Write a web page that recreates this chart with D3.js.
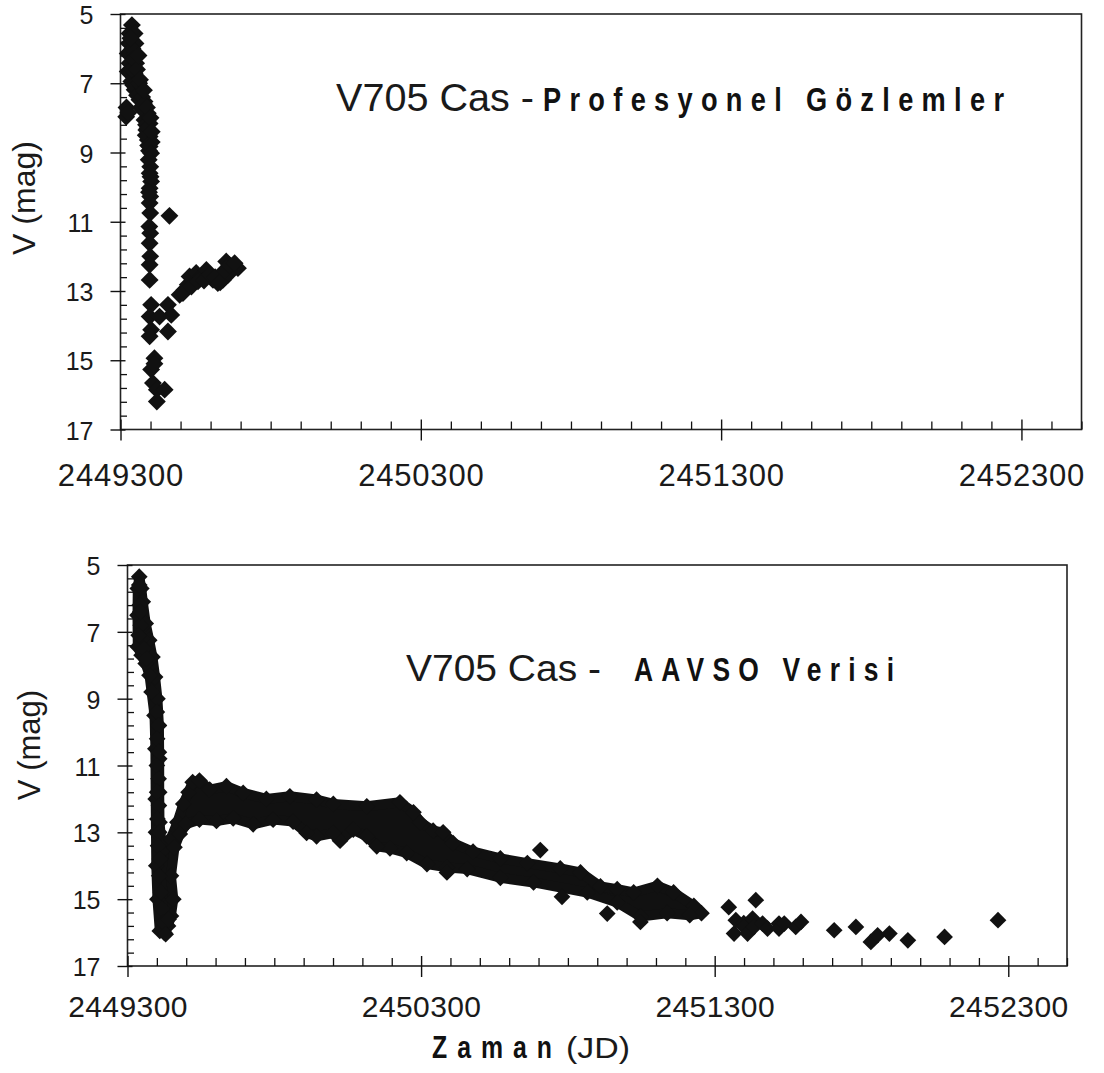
<!DOCTYPE html>
<html><head><meta charset="utf-8">
<script src="https://cdn.jsdelivr.net/npm/d3@7"></script>
<style>
html,body{margin:0;padding:0;background:#fff;}
svg{display:block;}
</style></head><body>
<svg id="chart" width="1104" height="1073"></svg>
<script>
// ---------- data ----------
const xDomain = [2449300, 2452500];
const yDomain = [5, 17];
const xMajorTicks = [2449300, 2450300, 2451300, 2452300];
const yMajorTicks = [5, 7, 9, 11, 13, 15, 17];
const xMinorStep = 100;
const yMinorStep = 0.4;

const topTitle = ["V705 Cas -", "Profesyonel Gözlemler"];
const bottomTitle = ["V705 Cas -", "AAVSO Verisi"];
const yTitle = "V (mag)";
const xTitle = ["Zaman", "(JD)"];

// Professional observations [JD, V]
const proJD = [
 2449338,2449330,2449347,2449328,2449350,2449324,2449347,2449330,2449352,2449324,
 2449347,2449336,2449358,2449347,2449369,2449363,2449380,2449320,2449319,2449326,
 2449374,2449391,2449380,2449397,2449386,2449397,2449391,2449340,2449338,2449342,
 2449355,2449372,2449385,2449392,
 2449333,2449343,2449355,2449362,2449368,2449378,2449384,2449390,2449404,2449395,
 2449360,2449365,2449378,2449388,2449400,2449404,
 2449397,2449402,2449394,2449399,2449397,2449402,2449397,2449399,2449397,2449399,
 2449396,2449399,2449397,2449399,2449397,2449397,2449400,2449395,
 2449463,
 2449402,2449458,2449397,2449469,2449402,2449458,2449397,2449430,
 2449413,2449402,2449408,2449421,2449447,2449421,2449413,
 2449497,2449513,2449524,2449541,2449530,2449552,2449569,2449586,2449608,2449624,
 2449641,2449652,2449669,2449691,2449658,
 2449508,2449536,2449558,2449578,2449598,2449615,2449632,2449647,2449662,2449680
];
const proV = [
 5.32,5.56,5.56,5.85,5.85,6.14,6.14,6.42,6.42,6.66,
 6.71,6.95,6.95,7.19,7.24,7.48,7.53,7.70,7.97,7.85,
 7.77,7.87,8.06,8.16,8.35,8.54,8.64,6.00,6.60,7.05,
 7.35,7.40,8.20,8.80,
 5.70,6.30,6.60,7.00,7.70,7.60,8.50,8.30,8.70,8.95,
 6.20,6.90,7.20,7.70,8.00,8.40,
 8.83,9.02,9.21,9.41,9.60,9.84,10.03,10.27,10.46,10.75,
 11.14,11.33,11.62,12.00,12.24,12.68,9.70,10.15,
 10.83,
 13.40,13.40,13.74,13.69,14.12,14.17,14.31,13.74,
 14.94,15.27,15.66,15.85,15.85,16.19,15.10,
 13.11,12.97,12.82,12.68,12.58,12.48,12.58,12.39,12.68,12.77,
 12.68,12.15,12.29,12.34,12.53,
 13.06,12.87,12.72,12.70,12.52,12.60,12.75,12.40,12.25,12.20
];

// AAVSO: outline of the dense band of observations [JD, V]
const bandJD = [
 2449340,2449347,2449352,2449362,2449374,2449385,2449394,2449402,2449407,2449408,
 2449408,2449409,2449418,2449447,2449470,2449490,2449508,2449522,2449545,
 2449580,2449637,2449694,2449773,2449853,2449944,2450001,2450115,2450228,2450274,
 2450297,2450341,2450375,2450409,2450477,2450570,2450662,2450774,2450843,2450911,
 2450968,2451024,2451105,2451160,2451229,2451255,
 2451215,2451138,2451047,2450968,2450866,2450683,2450570,2450457,2450388,2450320,
 2450251,2450194,2450149,2450115,2450069,2450024,2450001,2449944,2449910,2449864,
 2449796,2449728,2449660,2449603,2449545,
 2449500,2449478,2449460,2449448,
 2449456,2449448,2449438,2449425,
 2449410,2449402,2449398,2449397,2449396,2449395,2449392,
 2449382,2449375,2449362,2449348,2449335,2449334,2449335
];
const bandV = [
 5.35,5.70,6.10,6.75,7.25,7.75,8.35,9.00,9.80,10.80,
 11.80,12.70,13.55,13.20,12.70,12.15,11.80,11.50,11.45,
 11.72,11.62,11.82,12.00,11.92,12.02,12.15,12.22,12.10,12.40,
 12.70,12.95,13.00,13.32,13.58,13.78,13.92,14.08,14.20,14.62,
 14.70,14.80,14.60,14.80,15.20,15.42,
 15.48,15.42,15.52,15.10,14.80,14.50,14.36,14.10,14.05,13.95,
 13.62,13.48,13.42,13.12,12.92,13.25,13.02,13.12,13.02,12.68,
 12.62,12.76,12.58,12.66,12.62,
 12.75,13.05,13.45,14.30,
 15.00,15.50,15.80,16.00,
 15.95,15.00,14.00,13.00,12.00,10.50,9.50,
 8.80,8.30,7.95,7.70,7.45,6.50,5.70
];
// AAVSO: individual observations (steep decline column and scattered points)
const aavsoJD = [
 2449340,2449342,2449345,2449350,2449356,2449366,2449338,2449344,
 2449400,2449406,2449401,2449407,2449400,2449406,2449401,2449407,2449402,2449408,
 2449404,2449410,2449408,2449414,2449418,2449422,2449430,2449440,
 2450388,2450706,2450780,2450934,2451047,2451348,2451366,2451372,2451399,2451400,
 2451412,2451429,2451434,2451440,2451463,2451480,2451519,2451519,2451537,2451576,
 2451594,2451707,2451781,2451832,2451855,2451895,2451958,2452083,2452265
];
const aavsoV = [
 5.60,6.20,6.80,7.20,7.50,7.80,7.10,6.40,
 9.40,9.80,10.20,10.60,11.00,11.40,11.80,12.20,12.60,13.00,
 13.40,13.80,14.30,14.80,15.30,15.70,16.05,15.60,
 14.20,13.53,14.93,15.43,15.68,15.24,16.03,15.63,15.72,15.83,
 16.03,15.58,15.83,15.03,15.73,15.88,15.73,15.88,15.73,15.83,
 15.68,15.93,15.83,16.28,16.08,16.03,16.23,16.13,15.63
];

// ---------- drawing ----------
const svg = d3.select("#chart");
const FONT = '"Liberation Sans", Arial, Helvetica, sans-serif';
const INK = "#111";

function panel(cfg) {
  const g = svg.append("g");
  const x = d3.scaleLinear().domain(xDomain).range([cfg.left, cfg.right]);
  const y = d3.scaleLinear().domain(yDomain).range([cfg.top, cfg.bottom]);

  g.append("rect").attr("x", cfg.left).attr("y", cfg.top)
    .attr("width", cfg.right - cfg.left).attr("height", cfg.bottom - cfg.top)
    .attr("fill", "none").attr("stroke", "#222").attr("stroke-width", 1.6);

  const xMinor = d3.range(xDomain[0], xDomain[1] + 1, xMinorStep).filter(v => !xMajorTicks.includes(v));
  const yMinor = d3.range(0, 31).map(i => +(yDomain[0] + i * yMinorStep).toFixed(2)).filter(v => !yMajorTicks.includes(v));

  g.append("g").attr("transform", `translate(0,${cfg.bottom})`)
    .call(d3.axisBottom(x).tickValues(xMinor).tickSize(-8).tickSizeOuter(0).tickFormat(""))
    .call(s => { s.select(".domain").remove(); s.selectAll("line").attr("stroke", INK).attr("stroke-width", 1.3); });

  const gx = g.append("g").attr("transform", `translate(0,${cfg.bottom})`)
    .call(d3.axisBottom(x).tickValues(xMajorTicks).tickSize(11).tickSizeOuter(0).tickFormat(d3.format("d")));
  gx.select(".domain").remove();
  gx.selectAll(".tick line").attr("y1", -10).attr("stroke", INK).attr("stroke-width", 1.4);
  gx.selectAll(".tick text").attr("y", cfg.xLabelOffset).attr("dy", 0)
    .attr("font-family", FONT).attr("font-size", cfg.xLabelSize)
    .attr("letter-spacing", cfg.xLabelSpacing).attr("fill", "#1a1a1a");

  g.append("g").attr("transform", `translate(${cfg.left},0)`)
    .call(d3.axisLeft(y).tickValues(yMinor).tickSize(-6.5).tickSizeOuter(0).tickFormat(""))
    .call(s => { s.select(".domain").remove(); s.selectAll("line").attr("stroke", INK).attr("stroke-width", 1.3); });

  const gy = g.append("g").attr("transform", `translate(${cfg.left},0)`)
    .call(d3.axisLeft(y).tickValues(yMajorTicks).tickSize(10).tickSizeOuter(0).tickFormat(d3.format("d")));
  gy.select(".domain").remove();
  gy.selectAll(".tick line").attr("x1", 5).attr("stroke", INK).attr("stroke-width", 1.4);
  gy.selectAll(".tick text").attr("x", -27).attr("dy", "0.38em")
    .attr("font-family", FONT).attr("font-size", 25).attr("fill", "#1a1a1a");

  g.append("text").attr("transform", `translate(${cfg.yTitleX},${cfg.yTitleY}) rotate(-90)`)
    .attr("text-anchor", "middle").attr("font-family", FONT).attr("font-size", cfg.yTitleSize)
    .attr("fill", "#1a1a1a").text(yTitle);

  return { g, x, y };
}

function diamonds(g, x, y, jd, v, size) {
  const sym = d3.symbol().type(d3.symbolSquare).size(size);
  g.append("g").selectAll("path").data(jd.map((d, i) => [d, v[i]])).join("path")
    .attr("d", sym)
    .attr("transform", d => `translate(${x(d[0])},${y(d[1])}) rotate(45)`)
    .attr("fill", INK);
}

function spacedBold(x, y, size, width, txt) {
  const sx = 0.8;
  svg.append("text").attr("transform", `translate(${x},${y}) scale(${sx},1)`)
    .attr("x", 0).attr("y", 0).attr("font-family", FONT)
    .attr("font-size", size).attr("font-weight", "bold").attr("fill", "#111")
    .attr("textLength", width / sx).attr("lengthAdjust", "spacing").text(txt);
}

// ---- top panel ----
const P1 = panel({ left: 120.5, right: 1081.5, top: 14, bottom: 429.5,
  xLabelOffset: 56, xLabelSize: 31, xLabelSpacing: 0.8,
  yTitleX: 35, yTitleY: 198, yTitleSize: 32 });
diamonds(P1.g, P1.x, P1.y, proJD, proV, 160);

svg.append("text").attr("x", 336).attr("y", 111).attr("font-family", FONT)
  .attr("font-size", 38).attr("fill", "#1a1a1a")
  .attr("textLength", 198).attr("lengthAdjust", "spacingAndGlyphs").text(topTitle[0]);
spacedBold(543, 111, 34, 461, topTitle[1]);

// ---- bottom panel ----
const P2 = panel({ left: 127.5, right: 1067, top: 565, bottom: 966,
  xLabelOffset: 51, xLabelSize: 30, xLabelSpacing: 0.4,
  yTitleX: 40, yTitleY: 745, yTitleSize: 31 });
const bandPts = bandJD.map((d, i) => [d, bandV[i]]);
P2.g.append("path")
  .attr("d", d3.line().x(d => P2.x(d[0])).y(d => P2.y(d[1])).curve(d3.curveLinearClosed)(bandPts))
  .attr("fill", INK).attr("stroke", INK).attr("stroke-width", 10).attr("stroke-linejoin", "round");
diamonds(P2.g, P2.x, P2.y, bandJD, bandV, 140);
diamonds(P2.g, P2.x, P2.y, aavsoJD, aavsoV, 140);

svg.append("text").attr("x", 406).attr("y", 681).attr("font-family", FONT)
  .attr("font-size", 36).attr("fill", "#1a1a1a")
  .attr("textLength", 195).attr("lengthAdjust", "spacingAndGlyphs").text(bottomTitle[0]);
spacedBold(634, 681, 33, 260, bottomTitle[1]);

// x title
spacedBold(432, 1058, 31, 120, xTitle[0]);
svg.append("text").attr("x", 566).attr("y", 1058).attr("font-family", FONT)
  .attr("font-size", 30).attr("fill", "#1a1a1a")
  .attr("textLength", 64).attr("lengthAdjust", "spacingAndGlyphs").text(xTitle[1]);
</script>
</body></html>
